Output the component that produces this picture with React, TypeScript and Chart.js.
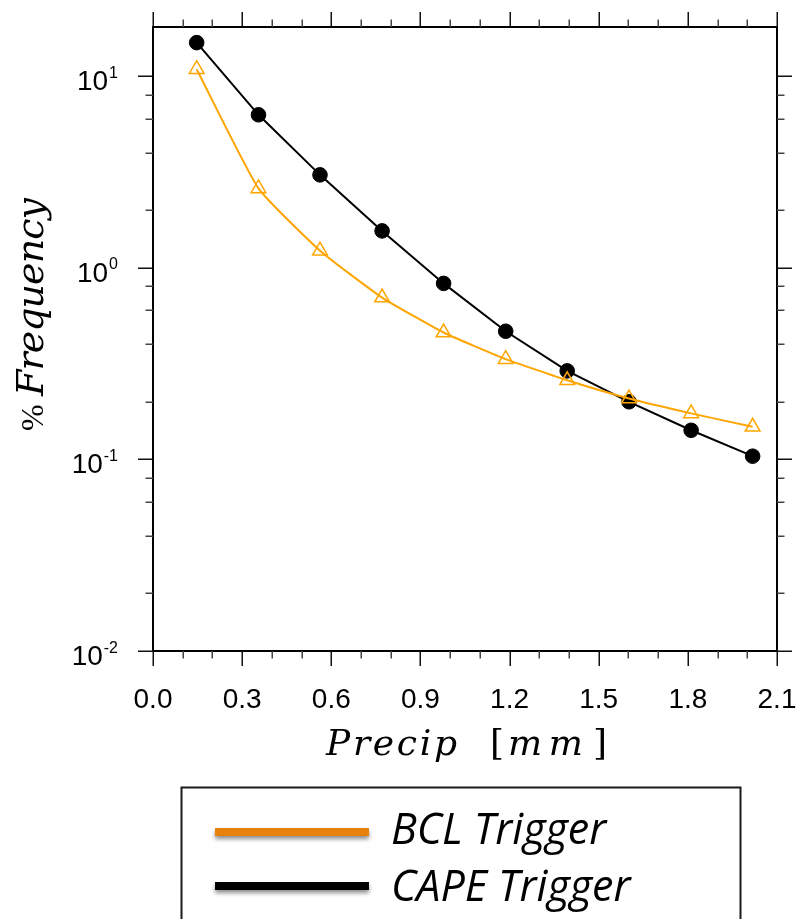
import React, { useEffect, useRef } from 'react';
import { Chart, registerables } from 'chart.js';

Chart.register(...registerables);

// ---- data ----
const precip = [0.147, 0.355, 0.562, 0.771, 0.978, 1.187, 1.394, 1.602, 1.811, 2.018];
const bclFreq = [10.9, 2.6, 1.23, 0.70, 0.46, 0.334, 0.259, 0.208, 0.174, 0.148];
const capeFreq = [15.0, 6.3, 3.06, 1.56, 0.83, 0.467, 0.29, 0.20, 0.142, 0.104];
const seriesNames = ['BCL Trigger', 'CAPE Trigger'];

const xMin = 0;
const xMax = 2.1;
const xMajorValues = [0, 0.3, 0.6, 0.9, 1.2, 1.5, 1.8, 2.1];
const xTickLabels = ['0.0', '0.3', '0.6', '0.9', '1.2', '1.5', '1.8', '2.1'];
const xMinorValues = [0.1, 0.2, 0.4, 0.5, 0.7, 0.8, 1.0, 1.1, 1.3, 1.4, 1.6, 1.7, 1.9, 2.0];

const yMin = 0.01;
const yMax = 18.1;
const yDecades = [0.01, 0.1, 1, 10];
const yExponents = ['-2', '-1', '0', '1'];
const yMinorMultipliers = [2, 4, 6, 8];

const SERIF_IT = '"DejaVu Serif", "Liberation Serif", serif';

const decorPlugin = {
  id: 'decor',
  afterDraw(chart: any) {
    const { ctx, chartArea: a, scales } = chart;
    const xs = scales.x;
    const ys = scales.y;
    ctx.save();

    // frame
    ctx.strokeStyle = '#000';
    ctx.lineWidth = 2;
    ctx.strokeRect(a.left, a.top, a.right - a.left, a.bottom - a.top);

    // ticks
    const majorLen = 15;
    const minorLen = 7.5;
    ctx.lineWidth = 1.5;
    const drawX = (v: number, len: number) => {
      const px = Math.round(xs.getPixelForValue(v)) + 0.25;
      ctx.beginPath();
      ctx.moveTo(px, a.bottom);
      ctx.lineTo(px, a.bottom + len);
      ctx.moveTo(px, a.top);
      ctx.lineTo(px, a.top - len);
      ctx.stroke();
    };
    const drawY = (v: number, len: number) => {
      const py = Math.round(ys.getPixelForValue(v)) + 0.25;
      ctx.beginPath();
      ctx.moveTo(a.left, py);
      ctx.lineTo(a.left - len, py);
      ctx.moveTo(a.right, py);
      ctx.lineTo(a.right + len, py);
      ctx.stroke();
    };
    ctx.strokeStyle = '#111';
    xMajorValues.forEach((v) => drawX(v, majorLen));
    yDecades.forEach((v) => drawY(v, majorLen));
    ctx.strokeStyle = '#444';
    xMinorValues.forEach((v) => drawX(v, minorLen));
    yDecades.forEach((d) => {
      yMinorMultipliers.forEach((m) => {
        const v = d * m;
        if (v <= yMax) drawY(v, minorLen);
      });
    });

    // x tick labels
    ctx.fillStyle = '#000';
    ctx.font = '28px "Liberation Sans", Arial, sans-serif';
    ctx.textAlign = 'center';
    ctx.textBaseline = 'alphabetic';
    xMajorValues.forEach((v, i) => {
      ctx.fillText(xTickLabels[i], xs.getPixelForValue(v), a.bottom + 57);
    });

    // y tick labels: 10^n
    const labelRight = a.left - 35;
    yDecades.forEach((v, i) => {
      const py = ys.getPixelForValue(v);
      ctx.font = '16px "Liberation Sans", Arial, sans-serif';
      ctx.textAlign = 'right';
      const expW = ctx.measureText(yExponents[i]).width;
      ctx.fillText(yExponents[i], labelRight, py + 1.5);
      ctx.font = '28px "Liberation Sans", Arial, sans-serif';
      ctx.fillText('10', labelRight - expW - 1, py + 14);
    });

    // helper: draw text piece fitted to a target width
    const piece = (text: string, x: number, y: number, target: number) => {
      (ctx as any).letterSpacing = '0px';
      const w = ctx.measureText(text).width;
      const sp = text.length > 1 ? (target - w) / (text.length - 1) : 0;
      (ctx as any).letterSpacing = `${sp.toFixed(2)}px`;
      ctx.fillText(text, x, y);
      (ctx as any).letterSpacing = '0px';
    };

    // x axis title: Precip [mm]
    ctx.textAlign = 'left';
    const xb = a.bottom + 104;
    ctx.font = `italic 36px ${SERIF_IT}`;
    piece('Precip', 326, xb, 131);
    ctx.font = `36px ${SERIF_IT}`;
    ctx.fillText('[', 490, xb);
    ctx.font = `italic 36px ${SERIF_IT}`;
    piece('mm', 508, xb, 75);
    ctx.font = `36px ${SERIF_IT}`;
    ctx.fillText(']', 593, xb);

    // y axis title: % Frequency (rotated)
    ctx.save();
    ctx.translate(43, 0);
    ctx.rotate(-Math.PI / 2);
    ctx.font = '32px "Liberation Serif", serif';
    ctx.fillText('%', -431, 0);
    ctx.font = `italic 38px ${SERIF_IT}`;
    piece('Frequency', -396, 0, 198);
    ctx.restore();

    // legend box
    const lx = 181.5;
    const ly = 787.5;
    const lw = 559;
    ctx.strokeStyle = '#1a1a1a';
    ctx.lineWidth = 2;
    ctx.strokeRect(lx, ly, lw, 200);

    const legendColors = ['#E8820C', '#000000'];
    const rowY = [832, 886];
    seriesNames.forEach((name, i) => {
      ctx.save();
      ctx.shadowColor = 'rgba(0,0,0,0.45)';
      ctx.shadowBlur = 4;
      ctx.shadowOffsetY = 3;
      ctx.strokeStyle = legendColors[i];
      ctx.lineWidth = 8;
      ctx.lineCap = 'butt';
      ctx.beginPath();
      ctx.moveTo(215, rowY[i]);
      ctx.lineTo(369, rowY[i]);
      ctx.stroke();
      ctx.restore();
    });
    ctx.fillStyle = '#000';
    ctx.textAlign = 'left';
    ctx.font = 'italic 38px "Open Sans", "Noto Sans", sans-serif';
    const bw = ctx.measureText(seriesNames[0]).width;
    const fs = 38 * 215 / bw;
    ctx.font = `italic ${fs.toFixed(1)}px "Open Sans", "Noto Sans", sans-serif`;
    ctx.fillText(seriesNames[0], 391, 844);
    ctx.fillText(seriesNames[1], 391, 901);

    ctx.restore();
  },
};

export default function App() {
  const canvasRef = useRef<HTMLCanvasElement | null>(null);

  useEffect(() => {
    const canvas = canvasRef.current;
    if (!canvas) return;
    const chart = new Chart(canvas, {
      type: 'line',
      data: {
        datasets: [
          {
            label: seriesNames[0],
            data: precip.map((x, i) => ({ x, y: bclFreq[i] })),
            borderColor: '#FFA500',
            borderWidth: 2,
            backgroundColor: 'rgba(0,0,0,0)',
            pointStyle: 'triangle',
            pointRadius: 8.5,
            pointBorderWidth: 1.5,
            pointBorderColor: '#FFA500',
            pointBackgroundColor: 'rgba(0,0,0,0)',
            tension: 0.15,
          },
          {
            label: seriesNames[1],
            data: precip.map((x, i) => ({ x, y: capeFreq[i] })),
            borderColor: '#000000',
            borderWidth: 2,
            backgroundColor: '#000000',
            pointStyle: 'circle',
            pointRadius: 7.3,
            pointBorderWidth: 1,
            pointBorderColor: '#000000',
            pointBackgroundColor: '#000000',
            tension: 0,
          },
        ],
      },
      options: {
        animation: false,
        responsive: false,
        maintainAspectRatio: false,
        layout: { padding: { left: 153, top: 27, right: 22, bottom: 268 } },
        plugins: {
          legend: { display: false },
          tooltip: { enabled: false },
          title: { display: false },
        },
        scales: {
          x: { type: 'linear', min: xMin, max: xMax, display: false },
          y: { type: 'logarithmic', min: yMin, max: yMax, display: false },
        },
      },
      plugins: [decorPlugin],
    });
    return () => chart.destroy();
  }, []);

  return (
    <div style={{ position: 'absolute', left: 0, top: 0, width: 799, height: 919, background: '#fff' }}>
      <canvas ref={canvasRef} width={799} height={919} style={{ display: 'block' }} />
    </div>
  );
}
